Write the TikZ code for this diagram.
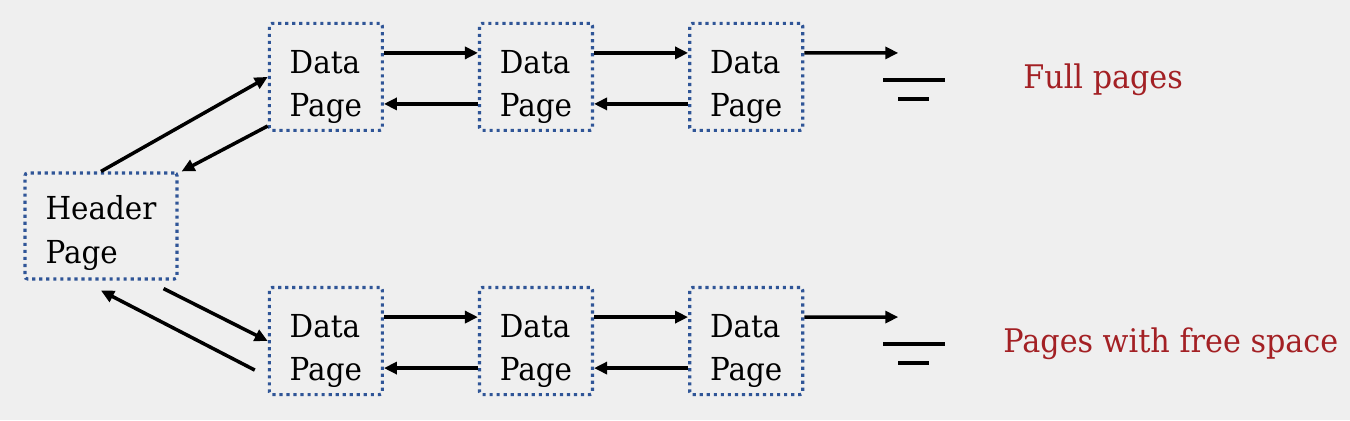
\documentclass[tikz,border=0pt]{standalone}
\usepackage{fontspec}
\setmainfont[FakeStretch=0.93]{DejaVu Serif}
\usetikzlibrary{matrix}
\usetikzlibrary{arrows.meta}
\usetikzlibrary{positioning}
\definecolor{pageblue}{RGB}{47,85,151}
\definecolor{notered}{RGB}{163,32,36}
\definecolor{backgray}{RGB}{239,239,239}

\begin{document}
\begin{tikzpicture}[page/.style={draw=pageblue, line width=1.8pt, dash pattern=on 1.8pt off 2.2pt, rounded corners=1.5pt, align=left, inner sep=0pt, font=\fontsize{18}{24.4}\selectfont}, data/.style={page, minimum width=2.26cm, minimum height=2.14cm, execute at begin node={\rule{0pt}{1.72cm}}}, link/.style={line width=2pt, -{Triangle[length=0.26cm,width=0.24cm]}}, ground/.style={line width=2.2pt}, note/.style={text=notered, anchor=base west, inner sep=0pt, font=\fontsize{18.5}{22}\selectfont}]
		\useasboundingbox (0,0) rectangle (27,8.4);
		\fill[backgray] (0,0) rectangle (27,8.4);
		\node[page, minimum width=3.04cm, minimum height=2.12cm, font=\fontsize{18}{25.5}\selectfont, execute at begin node={\rule{0pt}{1.66cm}}](header) at (2.02,3.88) {Header\\Page};
		\matrix [column sep=1.88cm, row sep=3.08cm](pages) at (10.72,4.22) {
			\node[data](full1){Data\\Page}; & \node[data](full2){Data\\Page}; & \node[data](full3){Data\\Page}; \\

			\node[data](free1){Data\\Page}; & \node[data](free2){Data\\Page}; & \node[data](free3){Data\\Page}; \\
		};
		\draw[link] ([yshift=0.48cm]full1.east) -- ([yshift=0.48cm]full2.west);
		\draw[link] ([yshift=0.48cm]full2.east) -- ([yshift=0.48cm]full3.west);
		\draw[link] ([yshift=-0.54cm]full2.west) -- ([yshift=-0.54cm]full1.east);
		\draw[link] ([yshift=-0.54cm]full3.west) -- ([yshift=-0.54cm]full2.east);
		\draw[link] ([yshift=0.48cm]free1.east) -- ([yshift=0.48cm]free2.west);
		\draw[link] ([yshift=0.48cm]free2.east) -- ([yshift=0.48cm]free3.west);
		\draw[link] ([yshift=-0.54cm]free2.west) -- ([yshift=-0.54cm]free1.east);
		\draw[link] ([yshift=-0.54cm]free3.west) -- ([yshift=-0.54cm]free2.east);
		\draw[link] (header.north) -- (full1.west);
		\draw[link] ([yshift=0.12cm]full1.south west) -- ([xshift=0.06cm]header.north east);
		\draw[link] ([shift={(-0.3,-0.16)}]header.south east) -- (free1.west);
		\draw[link] ([shift={(-0.26,-0.58)}]free1.west) -- ([yshift=-0.2cm]header.south);
		\coordinate (fullend) at ([shift={(1.88,0.48)}]full3.east);
		\coordinate (freeend) at ([shift={(1.88,0.48)}]free3.east);
		\draw[link] ([yshift=0.48cm]full3.east) -- (fullend);
		\draw[ground] ([shift={(-0.3,-0.54)}]fullend) -- ++(1.24,0);
		\draw[ground] ([yshift=-0.92cm]fullend) -- ++(0.62,0);
		\draw[link] ([yshift=0.48cm]free3.east) -- (freeend);
		\draw[ground] ([shift={(-0.3,-0.54)}]freeend) -- ++(1.24,0);
		\draw[ground] ([yshift=-0.92cm]freeend) -- ++(0.62,0);
		\node[note](fulltext) at (20.46,6.62) {Full pages};
		\node[note](freetext) at (20.06,1.36) {Pages with free space};
	\end{tikzpicture}
\end{document}
